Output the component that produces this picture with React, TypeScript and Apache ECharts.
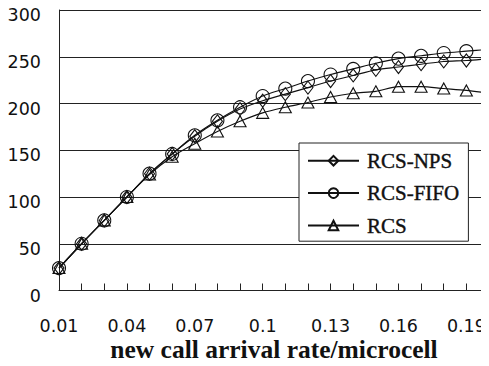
import React, { useEffect, useRef } from "react";
import * as echarts from "echarts";

const categories = ["0.01","0.02","0.03","0.04","0.05","0.06","0.07","0.08","0.09","0.1","0.11","0.12","0.13","0.14","0.15","0.16","0.17","0.18","0.19","0.2"];
const rcsNps = [24, 50, 75, 100, 125, 146, 165, 181, 194, 203, 210, 217, 224, 230, 236, 239, 242, 245, 246, 248];
const rcsFifo = [24, 50, 75, 100, 125, 146, 166, 182, 196, 208, 216, 224, 231, 237, 243, 248, 251, 254, 256, 258];
const rcs = [24, 50, 75, 100, 124, 143, 157, 170, 181, 190, 196, 201, 207, 211, 213, 218, 218, 216, 214, 211];
const xTitle = "new call arrival rate/microcell";

export default function App() {
  const ref = useRef<HTMLDivElement>(null);
  useEffect(() => {
    const chart = echarts.init(ref.current!, null, { renderer: "svg" });
    const mk = (name: string, data: number[], symbol: string, size: any) => ({
      name,
      type: "line",
      data,
      smooth: 0.3,
      symbol,
      symbolSize: size,
      showSymbol: true,
      lineStyle: { color: "#111", width: 1.1 },
      itemStyle: { color: "rgba(255,255,255,0)", borderColor: "#111", borderWidth: 1.1 },
      emphasis: { disabled: true },
    });
    chart.setOption({
      animation: false,
      backgroundColor: "#fff",
      grid: { left: 59, right: 0, top: 10, bottom: 75.5, containLabel: false },
      xAxis: {
        type: "category",
        data: categories,
        boundaryGap: false,
        axisLine: { lineStyle: { color: "#222", width: 1 } },
        axisTick: { show: true, inside: true, length: 7, interval: 0, lineStyle: { color: "#222" } },
        axisLabel: { interval: 2, margin: 26, fontFamily: "DejaVu Sans", fontSize: 17.5, color: "#111" },
        splitLine: { show: false },
      },
      yAxis: {
        type: "value",
        min: 0,
        max: 300,
        interval: 50,
        axisLine: { show: true, lineStyle: { color: "#222", width: 1 } },
        axisTick: { show: false },
        axisLabel: {
          margin: 18,
          fontFamily: "DejaVu Sans",
          fontSize: 17.5,
          color: "#111",
          verticalAlign: "top",
          lineHeight: 10,
        },
        splitLine: { show: true, lineStyle: { color: "#222", width: 1 } },
      },
      legend: {
        data: ["RCS-NPS", "RCS-FIFO", "RCS"],
        orient: "vertical",
        left: 299,
        top: 143,
        itemWidth: 51,
        itemHeight: 12,
        itemGap: 11,
        padding: [7, 9, 5, 8],
        backgroundColor: "#fff",
        borderColor: "#222",
        borderWidth: 1,
        borderRadius: 0,
        textStyle: {
          fontFamily: "Liberation Serif",
          fontSize: 21,
          color: "#111",
          padding: [0, 0, 0, 3],
          textBorderColor: "#111",
          textBorderWidth: 0.4,
        },
      },
      graphic: [
        {
          type: "text",
          x: 274,
          y: 349,
          style: {
            text: xTitle,
            fontFamily: "Liberation Serif",
            fontSize: 25.5,
            fontWeight: "bold",
            fill: "#111",
            textAlign: "center",
            textVerticalAlign: "middle",
          },
        },
      ],
      series: [
        mk("RCS", rcs, "triangle", [12, 11]),
        mk("RCS-NPS", rcsNps, "diamond", [10, 13]),
        mk("RCS-FIFO", rcsFifo, "circle", 13),
      ],
    });
    return () => chart.dispose();
  }, []);
  return <div ref={ref} style={{ width: 489, height: 366, margin: -8 }} />;
}
